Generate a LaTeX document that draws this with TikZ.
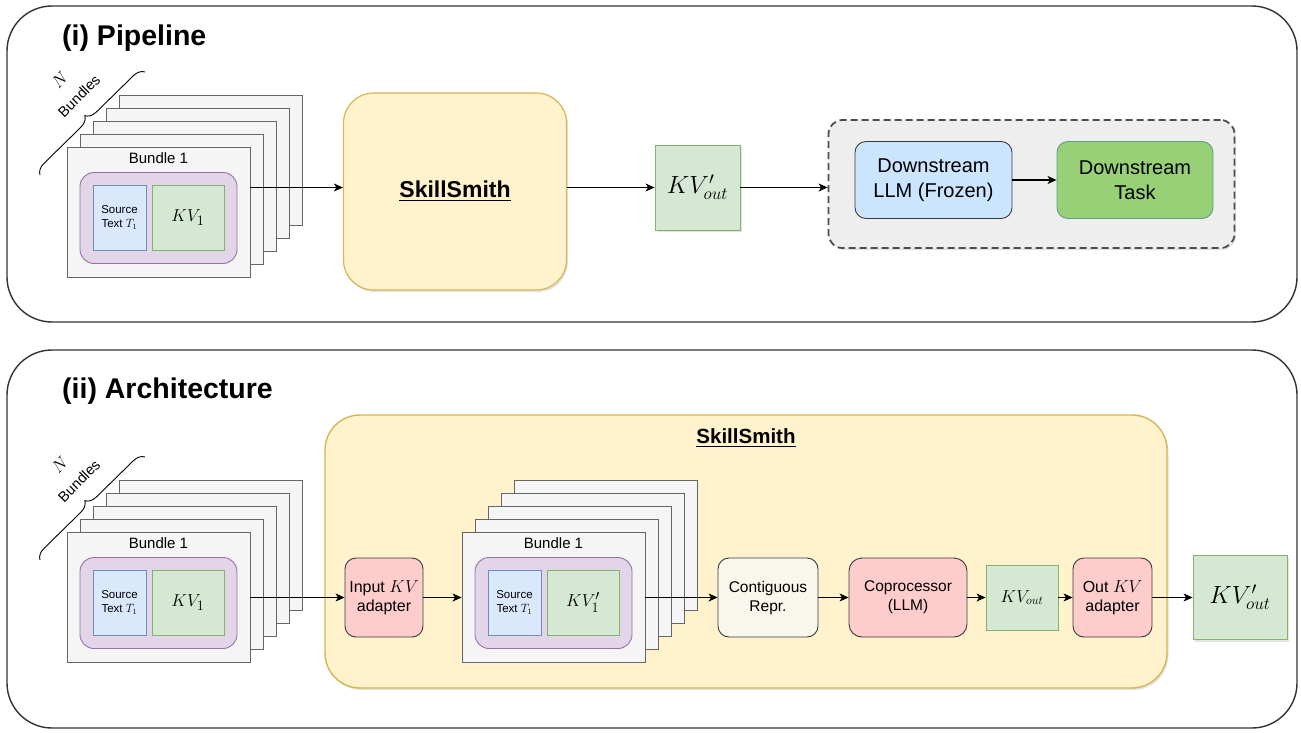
\documentclass[tikz,border=0pt]{standalone}
\usepackage{amsmath}
\usepackage{fontspec}
\setmainfont{Liberation Sans}
\usetikzlibrary{arrows.meta,positioning,shadows,decorations.pathreplacing}
\definecolor{panelgray}{HTML}{333333}
\definecolor{cardfill}{HTML}{F5F5F5}
\definecolor{cardline}{HTML}{666666}
\definecolor{trayfill}{HTML}{E1D5E7}
\definecolor{trayline}{HTML}{9673A6}
\definecolor{srcfill}{HTML}{DAE8FC}
\definecolor{srcline}{HTML}{6C8EBF}
\definecolor{kvfill}{HTML}{D5E8D4}
\definecolor{kvline}{HTML}{82B366}
\definecolor{smithfill}{HTML}{FFF2CC}
\definecolor{smithline}{HTML}{D6B656}
\definecolor{adaptfill}{HTML}{FFCCCC}
\definecolor{darkline}{HTML}{36393D}
\definecolor{reprfill}{HTML}{F9F7ED}
\definecolor{llmfill}{HTML}{CCE5FF}
\definecolor{taskfill}{HTML}{97D077}
\definecolor{taskline}{HTML}{5E9E8A}
\definecolor{dashfill}{HTML}{EEEEEE}
\definecolor{dashline}{HTML}{4D4D4D}

\begin{document}
\begin{tikzpicture}[
    x=1pt, y=-1pt,
    node distance=10pt,
    font=\fontsize{16}{19}\selectfont,
    panel/.style={draw=panelgray, line width=1.4pt, rounded corners=45pt},
    card/.style={draw=cardline, fill=cardfill, line width=0.9pt, minimum width=183pt, minimum height=130pt, inner sep=0pt},
    tray/.style={draw=trayline, fill=trayfill, line width=0.9pt, rounded corners=14pt, minimum width=157pt, minimum height=91pt},
    srcbox/.style={draw=srcline, fill=srcfill, line width=0.9pt, minimum width=53pt, minimum height=65pt, inner sep=0pt, align=center, font=\fontsize{11.5}{13.5}\selectfont},
    kvbox/.style={draw=kvline, fill=kvfill, line width=0.9pt, inner sep=0pt},
    roundbox/.style={draw=darkline, line width=0.9pt, rounded corners=11pt, align=center, inner sep=0pt, minimum height=79pt},
    lifted/.style={drop shadow={opacity=0.22, shadow xshift=1.5pt, shadow yshift=-2pt}},
    flow/.style={-{Stealth[length=9pt,width=8pt,inset=2.5pt]}, line width=1.1pt},
    heading/.style={anchor=west, inner sep=0pt, font=\fontsize{28.5}{33}\selectfont\bfseries},
    bundlelbl/.style={inner sep=0pt, font=\fontsize{15}{18}\selectfont},
]
\useasboundingbox (0,0) rectangle (1301,733);

% ============================================================
% PANEL (i): PIPELINE
% ============================================================
\draw[panel] (7,6) rectangle (1297,322);
\node[heading] (ttlA) at (62,38) {(i) Pipeline};

% Bundle stack
\begin{scope}[shift={(0,0)}]
    \foreach \k in {4,3,2,1}
        \draw[card] (67+13*\k,147-13*\k) rectangle ++(183,130);
    \node[card] (bunA) at (158.5,212) {};
    \node[bundlelbl, below=6pt of bunA.north] (bunAlbl) {Bundle 1};
    \node[tray] (trayA) at (158.5,218) {};
    \node[srcbox] (srcA) at (119.5,217.5) {Source\\Text $T_1$};
    \node[kvbox, minimum width=72pt, minimum height=65pt, font=\fontsize{19}{22}\selectfont] (kvA) at (188,217.5) {$KV_1$};

    % N bundles brace
    \coordinate (braceA1) at (40,175);
    \coordinate (braceA2) at (145,72);
    \draw[decorate, decoration={brace, amplitude=11pt}, line width=0.9pt] (braceA1) -- (braceA2);
    \node[rotate=45, inner sep=0pt, font=\fontsize{16}{19}\selectfont] (nA) at (60,80) {$N$};
    \node[rotate=45, inner sep=0pt, font=\fontsize{14.5}{17}\selectfont] (nAlbl) at (79,96) {Bundles};
\end{scope}

% SkillSmith block
\node[draw=smithline, fill=smithfill, line width=1.2pt, rounded corners=30pt, minimum width=223pt, minimum height=197pt, lifted, font=\fontsize{23}{28}\selectfont\bfseries] (smithA) at (455,191.5) {\underline{SkillSmith}};

% Output cache
\node[kvbox, lifted, minimum width=85pt, minimum height=85pt, font=\fontsize{25}{30}\selectfont] (kvoutA) at (697.5,187.5) {$KV'_{out}$};

% Downstream group
\node[draw=dashline, fill=dashfill, dash pattern=on 7pt off 4pt, line width=1.8pt, rounded corners=14pt, minimum width=406pt, minimum height=128pt, lifted] (dsA) at (1031.5,184) {};
\node[roundbox, fill=llmfill, minimum width=157pt, minimum height=77pt, font=\fontsize{20}{25}\selectfont] (llm) at (933.5,180) {Downstream\\LLM (Frozen)};
\node[roundbox, draw=taskline, fill=taskfill, minimum width=156pt, minimum height=77pt, font=\fontsize{20}{25}\selectfont] (task) at (1135,180) {Downstream\\Task};

\draw[flow] (bunA.east |- kvoutA) -- (smithA.west |- kvoutA);
\draw[flow] (smithA.east |- kvoutA) -- (kvoutA.west);
\draw[flow] (kvoutA.east) -- (kvoutA.east -| dsA.west);
\draw[flow] (llm.east) -- (task.west);

% ============================================================
% PANEL (ii): ARCHITECTURE
% ============================================================
\draw[panel] (7,350) rectangle (1297,728);
\node[heading] (ttlB) at (62,391) {(ii) Architecture};

% SkillSmith container
\node[draw=smithline, fill=smithfill, line width=1.4pt, rounded corners=35pt, minimum width=842pt, minimum height=273pt, lifted] (smithB) at (746,551.5) {};
\node[inner sep=0pt, below=14pt of smithB.north, font=\fontsize{20.5}{25}\selectfont\bfseries] (smithBlbl) {\underline{SkillSmith}};

% Input bundle stack
\begin{scope}[shift={(0,385)}]
    \foreach \k in {4,3,2,1}
        \draw[card] (67+13*\k,147-13*\k) rectangle ++(183,130);
    \node[card] (bunB) at (158.5,212) {};
    \node[bundlelbl, below=6pt of bunB.north] (bunBlbl) {Bundle 1};
    \node[tray] (trayB) at (158.5,218) {};
    \node[srcbox] (srcB) at (119.5,217.5) {Source\\Text $T_1$};
    \node[kvbox, minimum width=72pt, minimum height=65pt, font=\fontsize{19}{22}\selectfont] (kvB) at (188,217.5) {$KV_1$};

    % N bundles brace
    \coordinate (braceB1) at (40,175);
    \coordinate (braceB2) at (145,72);
    \draw[decorate, decoration={brace, amplitude=11pt}, line width=0.9pt] (braceB1) -- (braceB2);
    \node[rotate=45, inner sep=0pt, font=\fontsize{16}{19}\selectfont] (nB) at (60,80) {$N$};
    \node[rotate=45, inner sep=0pt, font=\fontsize{14.5}{17}\selectfont] (nBlbl) at (79,96) {Bundles};
\end{scope}

% Adapted bundle stack
\begin{scope}[shift={(395,385)}]
    \foreach \k in {4,3,2,1}
        \draw[card] (67+13*\k,147-13*\k) rectangle ++(183,130);
    \node[card] (bunC) at (158.5,212) {};
    \node[bundlelbl, below=6pt of bunC.north] (bunClbl) {Bundle 1};
    \node[tray] (trayC) at (158.5,218) {};
    \node[srcbox] (srcC) at (119.5,217.5) {Source\\Text $T_1$};
    \node[kvbox, minimum width=72pt, minimum height=65pt, font=\fontsize{19}{22}\selectfont] (kvC) at (188,217.5) {$KV'_1$};
\end{scope}

% Processing chain
\node[roundbox, fill=adaptfill, minimum width=78pt] (inad) at (384,597.5) {Input $KV$\\adapter};
\node[roundbox, fill=reprfill, minimum width=100pt, font=\fontsize{15.5}{19}\selectfont] (contig) at (768,597.5) {Contiguous\\Repr.};
\node[roundbox, fill=adaptfill, minimum width=118pt, rounded corners=13pt, font=\fontsize{15.5}{19}\selectfont] (copro) at (908,597.5) {Coprocessor\\(LLM)};
\node[kvbox, minimum width=72pt, minimum height=65pt, font=\fontsize{17}{20}\selectfont] (kvo) at (1022,597.5) {$KV_{out}$};
\node[roundbox, fill=adaptfill, minimum width=79pt] (outad) at (1112.5,597.5) {Out $KV$\\adapter};
\node[kvbox, lifted, minimum width=94pt, minimum height=84pt, font=\fontsize{25}{30}\selectfont] (kvfinal) at (1240,597.5) {$KV'_{out}$};

\draw[flow] (bunB.east |- inad) -- (inad.west);
\draw[flow] (inad.east) -- (inad.east -| bunC.west);
\draw[flow] (bunC.east |- contig) -- (contig.west);
\draw[flow] (contig.east) -- (copro.west);
\draw[flow] (copro.east) -- (kvo.west);
\draw[flow] (kvo.east) -- (outad.west);
\draw[flow] (outad.east) -- (kvfinal.west);

\end{tikzpicture}
\end{document}
